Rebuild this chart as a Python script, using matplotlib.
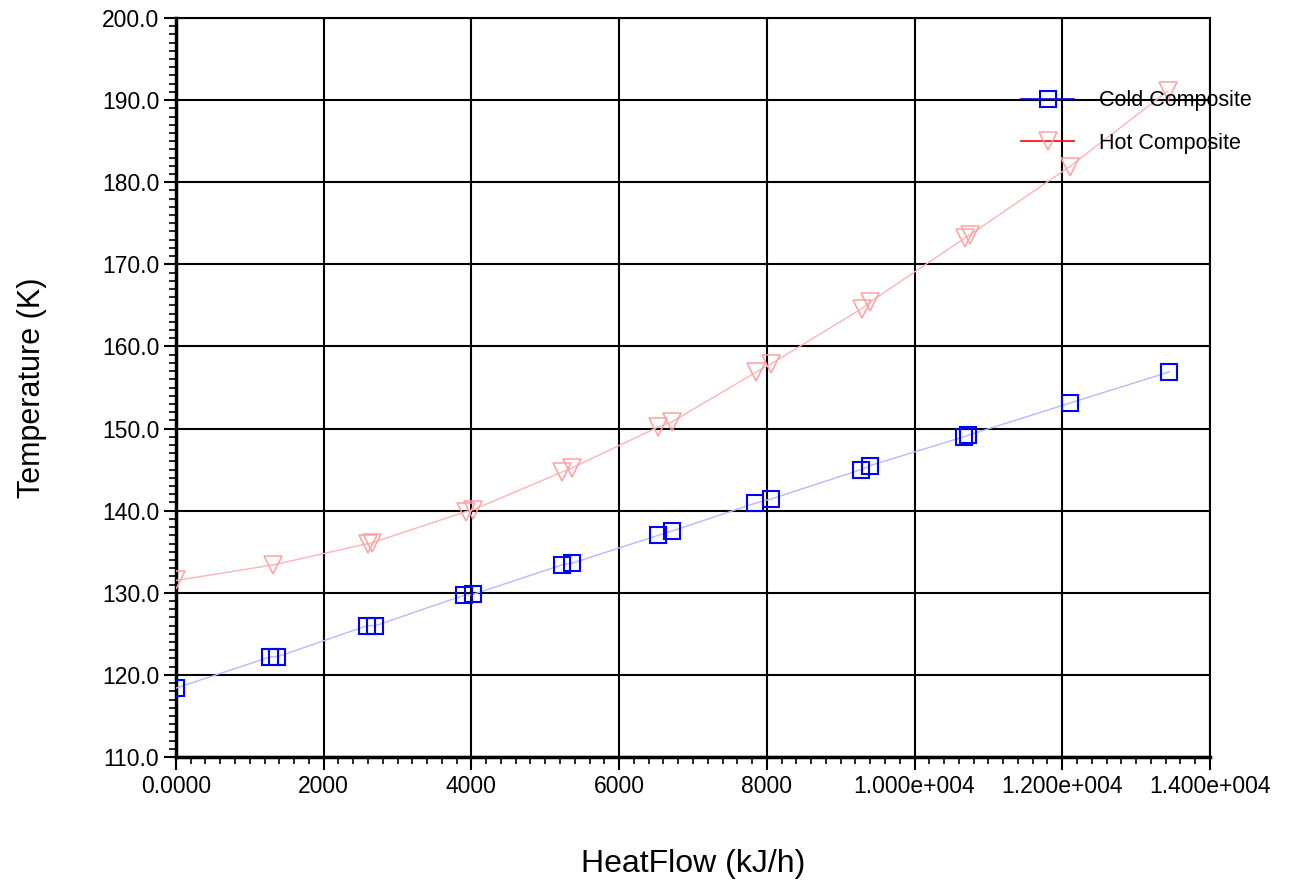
import matplotlib
matplotlib.use("Agg")
import matplotlib.pyplot as plt
from matplotlib.lines import Line2D
from matplotlib.ticker import MultipleLocator, FixedLocator, FixedFormatter

plt.rcParams['font.family'] = ['Liberation Sans', 'DejaVu Sans']

# composite curves
cold_x = [0, 1280, 1370, 2590, 2700, 3900, 4020, 5225, 5360, 6530, 6710,
          7840, 8050, 9275, 9400, 10670, 10730, 12100, 13450]
cold_T = [118.4, 122.2, 122.2, 126.0, 126.0, 129.7, 129.8, 133.4, 133.6, 137.0, 137.5,
          140.9, 141.4, 145.0, 145.5, 149.0, 149.2, 153.1, 156.9]

hot_x = [0, 1320, 2600, 2660, 3930, 4020, 5225, 5360, 6530, 6710,
         7860, 8060, 9285, 9395, 10680, 10750, 12100, 13430]
hot_T = [131.5, 133.4, 136.0, 136.1, 139.9, 140.1, 144.7, 145.2, 150.2, 150.8,
         156.9, 157.9, 164.6, 165.4, 173.2, 173.6, 181.9, 191.1]

x_ticks = [0, 2000, 4000, 6000, 8000, 10000, 12000, 14000]
x_labels = ["0.0000", "2000", "4000", "6000", "8000", "1.000e+004", "1.200e+004", "1.400e+004"]
y_ticks = [110, 120, 130, 140, 150, 160, 170, 180, 190, 200]

fig = plt.figure(figsize=(12.89, 8.90), dpi=100)
ax = fig.add_axes([0.1365, 0.1494, 0.8022, 0.8304])

ax.plot(cold_x, cold_T, color='#b8b8ff', lw=1.0, zorder=3)
ax.plot(cold_x, cold_T, ls='none', marker='s', ms=12, mfc='none', mec='#0000ff', mew=1.5, zorder=4)
ax.plot(hot_x, hot_T, color='#ffb4b4', lw=1.0, zorder=3)
ax.plot(hot_x, hot_T, ls='none', marker='v', ms=13, mfc='none', mec='#ffa0a0', mew=1.1, zorder=4)

ax.set_xlim(0, 14000)
ax.set_ylim(110, 200)
ax.xaxis.set_major_locator(FixedLocator(x_ticks))
ax.xaxis.set_major_formatter(FixedFormatter(x_labels))
ax.xaxis.set_minor_locator(MultipleLocator(200))
ax.yaxis.set_major_locator(FixedLocator(y_ticks))
ax.yaxis.set_major_formatter(FixedFormatter(["%.1f" % v for v in y_ticks]))
ax.yaxis.set_minor_locator(MultipleLocator(1))

ax.grid(True, which='major', color='black', lw=1.5, zorder=1)
ax.tick_params(which='major', direction='out', length=9, width=1.5, labelsize=16.5, pad=3, color='black')
ax.tick_params(which='minor', direction='out', length=5, width=1.2, color='black')
ax.tick_params(axis='x', pad=4)
for s in ['top', 'right']:
    ax.spines[s].set_linewidth(1.5)
for s in ['left', 'bottom']:
    ax.spines[s].set_linewidth(2.5)

ax.set_xlabel("HeatFlow (kJ/h)", fontsize=23)
ax.set_ylabel("Temperature (K)", fontsize=22)
ax.yaxis.set_label_coords(-0.125, 0.5)
ax.xaxis.set_label_coords(0.5, -0.125)

handles = [
    Line2D([], [], color='#0000ff', lw=1.2, marker='s', ms=12, mfc='none', mec='#0000ff', mew=1.5),
    Line2D([], [], color='#ff0000', lw=1.2, marker='v', ms=13, mfc='none', mec='#ffa0a0', mew=1.1),
]
leg = ax.legend(handles, ["Cold Composite", "Hot Composite"], loc='upper left',
                bbox_to_anchor=(0.807, 0.917), frameon=False, fontsize=15.5,
                handlelength=2.45, handletextpad=1.15, labelspacing=1.0, borderpad=0)
leg.set_zorder(5)

fig.savefig("out.png", dpi=100)
